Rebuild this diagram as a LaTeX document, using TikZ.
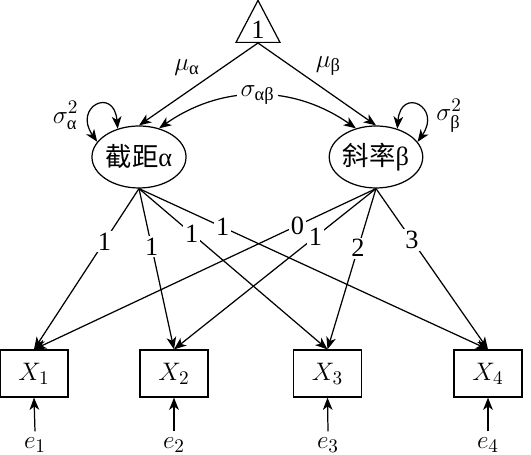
\documentclass[tikz,border=0pt]{standalone}
\usepackage{amsmath}
\usepackage{fontspec}
\setmainfont{Liberation Serif}
\newfontfamily\cjk{Noto Sans CJK SC}
\usepackage{tikz}
\usetikzlibrary{arrows.meta, shapes.geometric}
\tikzset{
  latentnode/.style={
    ellipse, draw=black, line width=0.7pt,
    minimum width=1.76cm, minimum height=1.24cm,
    inner sep=0pt, text centered
  },
  obsnode/.style={
    rectangle, draw=black, line width=0.7pt,
    minimum width=1.36cm, minimum height=0.94cm,
    text centered
  },
  constnode/.style={
    isosceles triangle, shape border rotate=90,
    isosceles triangle stretches,
    minimum width=0.88cm, minimum height=0.84cm,
    inner sep=0pt, draw=black, line width=0.7pt
  },
  patharrow/.style={-{Stealth[length=7pt,width=5.5pt,inset=2pt]}, line width=0.7pt},
  covarrow/.style={{Stealth[length=7pt,width=5.5pt,inset=2pt]}-{Stealth[length=7pt,width=5.5pt,inset=2pt]}, line width=0.7pt},
  loadlabel/.style={fill=white, inner sep=1pt},
}

\begin{document}
\begin{tikzpicture}[x=0.02cm, y=0.02cm, font=\fontsize{15pt}{17pt}\selectfont]
      \useasboundingbox (0,0) rectangle (531,455);
      % constant and latent factors
      \node[constnode,anchor=south](one)at(258,412){1};
      \node[latentnode](alpha)at(139,298){{\cjk 截距}α};
      \node[latentnode](beta)at(376,298){{\cjk 斜率}β};
      % observed measures
      \node[obsnode](x1)at(34,81.5)   {$X_1$};
      \node[obsnode](x2)at(174,81.5)  {$X_2$};
      \node[obsnode](x3)at(327.5,81.5){$X_3$};
      \node[obsnode](x4)at(488,81.5)  {$X_4$};
      \node(e1)at(35,10)  {$e_1$};
      \node(e2)at(174,10) {$e_2$};
      \node(e3)at(328,10) {$e_3$};
      \node(e4)at(488,10) {$e_4$};
      % means, variances, covariance
      \draw[patharrow](one.south)--node[pos=0.45,above left=-1pt]{$\mu_{\text{α}}$}(alpha.north);
      \draw[patharrow](one.south)--node[pos=0.45,above right=-1pt]{$\mu_{\text{β}}$}(beta.north);
      \draw[covarrow](alpha.160)to[out=125,in=95,looseness=4.5]node[pos=0.3,left=3pt]{$\sigma^2_{\text{α}}$}(alpha.127);
      \draw[covarrow](beta.53)to[out=85,in=55,looseness=4.5]node[pos=0.7,right=3pt]{$\sigma^2_{\text{β}}$}(beta.20);
      \draw[covarrow](alpha.55)to[bend left=35]node[midway,fill=white,inner sep=2pt]{$\sigma_{\text{αβ}}$}(beta.125);
      % loadings
      \draw[patharrow](alpha.south)--node[loadlabel,pos=0.33]{1}(x1.north);
      \draw[patharrow](alpha.south)--node[loadlabel,pos=0.36]{1}(x2.north);
      \draw[patharrow](alpha.south)--node[loadlabel,pos=0.28]{1}(x3.north);
      \draw[patharrow](alpha.south)--node[loadlabel,pos=0.24]{1}(x4.north);
      \draw[patharrow](beta.south)--node[loadlabel,pos=0.23]{0}(x1.north);
      \draw[patharrow](beta.south)--node[loadlabel,pos=0.30]{1}(x2.north);
      \draw[patharrow](beta.south)--node[loadlabel,pos=0.37]{2}(x3.north);
      \draw[patharrow](beta.south)--node[loadlabel,pos=0.32]{3}(x4.north);
      % residuals
      \draw[patharrow](e1.north)--(x1.south);
      \draw[patharrow](e2.north)--(x2.south);
      \draw[patharrow](e3.north)--(x3.south);
      \draw[patharrow](e4.north)--(x4.south);
    \end{tikzpicture}
\end{document}
